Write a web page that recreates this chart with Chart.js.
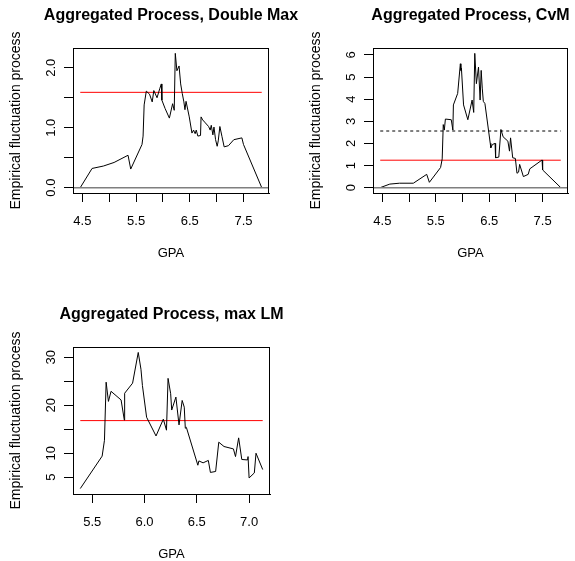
<!DOCTYPE html>
<html>
<head>
<meta charset="utf-8">
<title>Aggregated Process</title>
<script src="https://cdn.jsdelivr.net/npm/chart.js@4.4.1/dist/chart.umd.min.js"></script>
<style>
    html, body { margin: 0; padding: 0; background: #fff; }
    #page { position: relative; width: 575px; height: 561px; overflow: hidden; }
    #page canvas { position: absolute; left: 0; top: 0; }
</style>
</head>
<body>
<div id="page">
    <!-- three transparent layers, one per panel, so long titles are never clipped -->
    <canvas id="chart-dmax" width="575" height="561"></canvas>
    <canvas id="chart-cvm" width="575" height="561"></canvas>
    <canvas id="chart-lm" width="575" height="561"></canvas>
</div>
<script>
// Double Max panel
const gpaDM = [4.46, 4.68, 4.89, 5.09, 5.35, 5.40, 5.61, 5.63, 5.65, 5.66, 5.69, 5.75, 5.80, 5.83, 5.89, 5.94, 5.97, 5.98,
    6.04, 6.12, 6.18, 6.21, 6.23, 6.26, 6.30, 6.33, 6.36, 6.39, 6.41, 6.43, 6.49, 6.54, 6.57, 6.60, 6.62, 6.65, 6.70,
    6.71, 6.74, 6.79, 6.85, 6.88, 6.90, 6.93, 6.95, 6.98, 7.01, 7.03, 7.06, 7.10, 7.14, 7.22, 7.32, 7.47, 7.50, 7.84];
const procDM = [0, 0.32, 0.36, 0.42, 0.54, 0.31, 0.72, 0.86, 1.38, 1.38, 1.61, 1.56, 1.43, 1.62, 1.50, 1.65, 1.73, 1.46,
    1.32, 1.16, 1.40, 1.29, 2.24, 1.95, 2.03, 1.73, 1.57, 1.43, 1.30, 1.44, 1.18, 0.91, 0.96, 0.90, 0.96, 0.86, 0.87,
    1.18, 1.13, 1.08, 1.02, 0.96, 1.04, 0.88, 1.01, 0.80, 0.69, 0.78, 1.02, 0.85, 0.68, 0.70, 0.80, 0.83, 0.72, 0];
const critDM = 1.59;

// CvM panel
const gpaCvM = [4.46, 4.64, 4.82, 5.08, 5.33, 5.38, 5.59, 5.62, 5.64, 5.66, 5.68, 5.79, 5.82, 5.83, 5.91, 5.96, 5.97, 5.98,
    6.02, 6.10, 6.18, 6.21, 6.23, 6.26, 6.30, 6.33, 6.35, 6.37, 6.39, 6.42, 6.52, 6.53, 6.56, 6.61, 6.62, 6.68, 6.72,
    6.76, 6.85, 6.88, 6.90, 6.94, 6.99, 7.02, 7.05, 7.07, 7.14, 7.23, 7.26, 7.49, 7.50, 7.84];
const procCvM = [0, 0.16, 0.20, 0.20, 0.60, 0.24, 0.91, 1.30, 2.85, 2.60, 3.10, 3.07, 2.60, 3.74, 4.26, 5.60, 5.30, 5.40,
    3.74, 3.07, 3.96, 3.40, 6.07, 4.70, 5.45, 3.96, 5.30, 4.50, 3.90, 3.80, 2.00, 1.80, 1.95, 2.00, 1.35, 1.38, 2.63,
    2.30, 2.10, 1.65, 2.25, 1.35, 1.32, 0.65, 0.70, 1.05, 0.50, 0.60, 0.85, 1.25, 0.80, 0];
const critCvM = 1.24;
const statCvM = 2.56;

// max LM panel
const gpaLM = [5.386, 5.595, 5.617, 5.633, 5.655, 5.68, 5.776, 5.807, 5.81, 5.886, 5.94, 5.966, 5.98, 6.02, 6.11, 6.18,
    6.21, 6.225, 6.25, 6.26, 6.30, 6.33, 6.36, 6.38, 6.39, 6.40, 6.51, 6.52, 6.56, 6.61, 6.63, 6.68, 6.71, 6.76, 6.85,
    6.87, 6.90, 6.93, 6.985, 6.99, 7.0, 7.05, 7.066, 7.13];
const procLM = [2.64, 9.4, 12.7, 24.8, 20.8, 22.9, 21.1, 16.9, 22.5, 24.6, 31.0, 27.5, 24.1, 17.5, 13.6, 17.1,
    14.8, 25.6, 22.4, 19.0, 21.7, 15.9, 21.0, 19.6, 15.2, 15.4, 7.5, 8.4, 8.0, 8.5, 6.0, 6.2, 12.3, 11.4, 10.9,
    9.3, 13.2, 8.7, 8.6, 9.3, 4.85, 5.9, 10.0, 6.6];
const critLM = 16.8;

// tick positions and labels (R leaves out labels that would overlap)
const xTicksWide = [4.5, 5, 5.5, 6, 6.5, 7, 7.5];
const xLabelsWide = ['4.5', '', '5.5', '', '6.5', '', '7.5'];
const yTicksDM = [0, 0.5, 1, 1.5, 2];
const yLabelsDM = ['0.0', '', '1.0', '', '2.0'];
const yTicksCvM = [0, 1, 2, 3, 4, 5, 6];
const yLabelsCvM = ['0', '1', '2', '3', '4', '5', '6'];
const xTicksLM = [5.5, 6, 6.5, 7];
const xLabelsLM = ['5.5', '6.0', '6.5', '7.0'];
const yTicksLM = [5, 10, 15, 20, 25, 30];
const yLabelsLM = ['5', '10', '', '20', '', '30'];

const FONT = '"Liberation Sans", Arial, Helvetica, sans-serif';

// R pads the data range by 4% on each side
function paddedRange(values) {
    const lo = Math.min(...values);
    const hi = Math.max(...values);
    const d = (hi - lo) * 0.04;
    return [lo - d, hi + d];
}

function toPoints(xs, ys) {
    return xs.map((x, i) => ({ x: x, y: ys[i] }));
}

function hline(x0, x1, y, color, dash) {
    return {
        data: [{ x: x0, y: y }, { x: x1, y: y }],
        borderColor: color,
        borderWidth: 1,
        borderDash: dash || [],
        pointRadius: 0
    };
}

// titles, frame and rotated y labels the way base R draws them
const rFramePlugin = {
    id: 'rFrame',
    afterDraw(chart, args, opts) {
        const ctx = chart.ctx;
        const a = chart.chartArea;
        const yScale = chart.scales.y;
        ctx.save();
        ctx.strokeStyle = '#000';
        ctx.lineWidth = 1;
        ctx.strokeRect(Math.round(a.left) + 0.5, Math.round(a.top) + 0.5,
            Math.round(a.right - a.left) - 1, Math.round(a.bottom - a.top));

        ctx.fillStyle = '#000';
        ctx.textAlign = 'center';
        ctx.textBaseline = 'alphabetic';
        const cx = (a.left + a.right) / 2;

        ctx.font = 'bold 16px ' + FONT;
        ctx.fillText(opts.title, cx, a.top - 28.5);

        ctx.font = '13px ' + FONT;
        ctx.fillText('GPA', cx, a.bottom + 64);

        ctx.save();
        ctx.font = '14px ' + FONT;
        ctx.translate(a.left - 53, (a.top + a.bottom) / 2);
        ctx.rotate(-Math.PI / 2);
        ctx.fillText('Empirical fluctuation process', 0, 0);
        ctx.restore();

        opts.yTicks.forEach((v, i) => {
            const label = opts.yLabels[i];
            if (!label) return;
            ctx.save();
            ctx.translate(a.left - 18.5, yScale.getPixelForValue(v));
            ctx.rotate(-Math.PI / 2);
            ctx.fillText(label, 0, 0);
            ctx.restore();
        });
        ctx.restore();
    }
};

function makePanel(canvasId, cfg) {
    const xr = paddedRange(cfg.gpa);
    const yr = paddedRange(cfg.values);
    const x0 = cfg.gpa[0];
    const x1 = cfg.gpa[cfg.gpa.length - 1];

    const datasets = [];
    if (cfg.zeroLine) {
        datasets.push(Object.assign(hline(xr[0], xr[1], 0, '#7f7f7f'), { borderWidth: 1.5 }));
    }
    datasets.push({
        data: toPoints(cfg.gpa, cfg.values),
        borderColor: '#000',
        borderWidth: 1,
        pointRadius: 0,
        tension: 0
    });
    if (cfg.stat !== undefined) {
        datasets.push(hline(x0, x1, cfg.stat, '#000', [3, 3]));
    }
    datasets.push(hline(x0, x1, cfg.crit, '#ff0000'));

    new Chart(document.getElementById(canvasId), {
        type: 'line',
        data: { datasets: datasets },
        options: {
            responsive: false,
            animation: false,
            events: [],
            layout: { padding: cfg.pad },
            plugins: {
                legend: { display: false },
                tooltip: { enabled: false },
                rFrame: { title: cfg.title, yTicks: cfg.yTicks, yLabels: cfg.yLabels }
            },
            scales: {
                x: {
                    type: 'linear',
                    min: xr[0],
                    max: xr[1],
                    afterBuildTicks: scale => { scale.ticks = cfg.xTicks.map(v => ({ value: v })); },
                    afterFit: scale => { scale.height = 40; },
                    grid: { display: true, drawOnChartArea: false, drawTicks: true, tickLength: 9, color: '#000' },
                    border: { display: true, color: '#000' },
                    ticks: {
                        autoSkip: false,
                        maxRotation: 0,
                        padding: 12,
                        color: '#000',
                        font: { family: FONT, size: 13 },
                        callback: (value) => {
                            const i = cfg.xTicks.indexOf(value);
                            return i >= 0 ? cfg.xLabels[i] : '';
                        }
                    }
                },
                y: {
                    type: 'linear',
                    min: yr[0],
                    max: yr[1],
                    afterBuildTicks: scale => { scale.ticks = cfg.yTicks.map(v => ({ value: v })); },
                    afterFit: scale => { scale.width = 9; },
                    grid: { display: true, drawOnChartArea: false, drawTicks: true, tickLength: 9, color: '#000' },
                    border: { display: true, color: '#000' },
                    ticks: { display: false }
                }
            }
        },
        plugins: [rFramePlugin]
    });
}

// padding puts each plot box where it sits in the 575x561 picture
makePanel('chart-dmax', {
    title: 'Aggregated Process, Double Max',
    gpa: gpaDM, values: procDM, crit: critDM, zeroLine: true,
    xTicks: xTicksWide, xLabels: xLabelsWide, yTicks: yTicksDM, yLabels: yLabelsDM,
    pad: { left: 64, top: 48, right: 306, bottom: 328 }
});

makePanel('chart-cvm', {
    title: 'Aggregated Process, CvM',
    gpa: gpaCvM, values: procCvM, crit: critCvM, stat: statCvM, zeroLine: true,
    xTicks: xTicksWide, xLabels: xLabelsWide, yTicks: yTicksCvM, yLabels: yLabelsCvM,
    pad: { left: 364, top: 48, right: 7, bottom: 328 }
});

makePanel('chart-lm', {
    title: 'Aggregated Process, max LM',
    gpa: gpaLM, values: procLM, crit: critLM, zeroLine: false,
    xTicks: xTicksLM, xLabels: xLabelsLM, yTicks: yTicksLM, yLabels: yLabelsLM,
    pad: { left: 64, top: 347, right: 305, bottom: 27 }
});
</script>
</body>
</html>
